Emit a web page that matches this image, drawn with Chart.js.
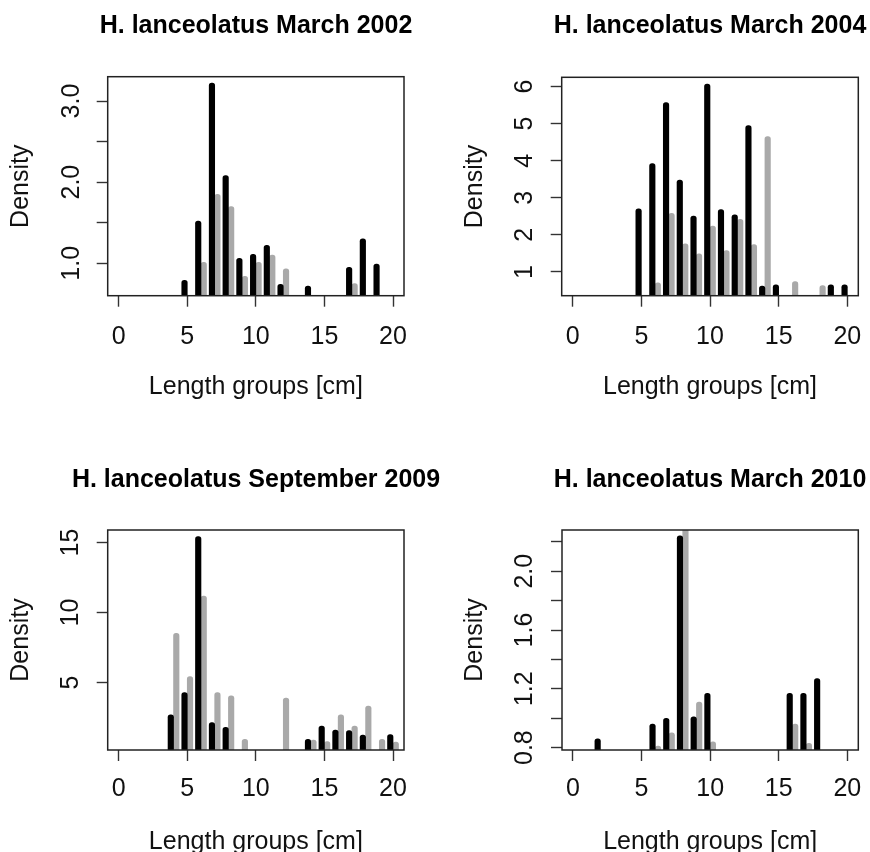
<!DOCTYPE html>
<html>
<head>
<meta charset="utf-8">
<script src="https://cdn.jsdelivr.net/npm/chart.js@4.4.1/dist/chart.umd.min.js"></script>
<style>
html,body{margin:0;padding:0;background:#fff;}
#wrap{position:relative;width:870px;height:852px;overflow:hidden;background:#fff;}
#wrap canvas{position:absolute;}
</style>
</head>
<body>
<div id="wrap"></div>
<script>
// ---------- data ----------
const lengthGroups = [1,2,3,4,5,6,7,8,9,10,11,12,13,14,15,16,17,18,19,20];
const xTicks = [0,5,10,15,20];

const titles = [
  "H. lanceolatus March 2002",
  "H. lanceolatus March 2004",
  "H. lanceolatus September 2009",
  "H. lanceolatus March 2010"
];
const xAxisTitle = "Length groups [cm]";
const yAxisTitle = "Density";

// March 2002
const p1Black = [null,null,null,null,0.79,1.52,3.22,2.08,1.06,1.11,1.22,0.74,null,0.72,null,null,0.95,1.30,0.99,null];
const p1Grey  = [null,null,null,null,null,1.01,1.85,1.70,0.84,1.01,1.10,0.93,null,null,null,null,0.75,null,null,null];
const p1YTicks  = [1.0,1.5,2.0,2.5,3.0];
const p1YLabels = ["1.0","","2.0","","3.0"];

// March 2004
const p2Black = [null,null,null,null,2.70,3.92,5.57,3.48,2.51,6.07,2.68,2.54,4.95,0.62,0.65,null,null,null,0.65,0.65];
const p2Grey  = [null,null,null,null,null,0.71,2.58,1.76,1.49,2.24,1.58,2.42,1.74,4.65,null,0.74,null,0.63,null,null];
const p2YTicks  = [1,2,3,4,5,6];
const p2YLabels = ["1","2","3","4","5","6"];

// September 2009
const p3Black = [null,null,null,2.71,4.29,15.43,2.14,1.81,null,null,null,null,null,0.95,1.90,1.62,1.57,1.26,null,1.29];
const p3Grey  = [null,null,null,8.52,5.43,11.19,4.29,4.05,0.95,null,null,3.90,null,0.90,0.79,2.71,1.90,3.33,0.95,0.76];
const p3YTicks  = [5,10,15];
const p3YLabels = ["5","10","15"];

// March 2010
const p4Black = [null,0.86,null,null,null,0.96,1.00,2.24,1.01,1.17,null,null,null,null,null,1.17,1.17,1.27,null,null];
const p4Grey  = [null,null,null,null,null,0.81,0.90,2.32,1.11,0.84,null,null,null,null,null,0.96,0.83,null,null,null];
const p4YTicks  = [0.8,1.0,1.2,1.4,1.6,1.8,2.0,2.2];
const p4YLabels = ["0.8","","1.2","","1.6","","2.0",""];

// ---------- rendering ----------
Chart.defaults.font.family = '"Liberation Sans", Arial, Helvetica, sans-serif';
Chart.defaults.color = '#111';

const framePlugin = {
  id: 'frame',
  afterDatasetsDraw(chart) {
    const {ctx, chartArea: a} = chart;
    ctx.save();
    ctx.strokeStyle = '#222';
    ctx.lineWidth = 1.5;
    ctx.strokeRect(a.left, a.top, a.right - a.left, a.bottom - a.top);
    ctx.restore();
  }
};

function toPoints(values) {
  return lengthGroups.map((x, i) => ({x: x, y: values[i]})).filter(p => p.y !== null);
}

function makePanel(p) {
  const c = document.createElement('canvas');
  c.width = p.W; c.height = p.H;
  c.style.left = p.left + 'px'; c.style.top = p.top + 'px';
  c.style.width = p.W + 'px'; c.style.height = p.H + 'px';
  document.getElementById('wrap').appendChild(c);

  const tickGrid = {display: true, drawOnChartArea: false, drawTicks: true, tickLength: 11,
                    tickWidth: 1.4, tickColor: '#333', offset: false};
  const barCommon = {barThickness: 5.5, borderRadius: 3, borderWidth: 0, clip: 0};

  new Chart(c, {
    type: 'bar',
    data: {
      datasets: [
        Object.assign({label: 'black', data: toPoints(p.black), backgroundColor: '#000000'}, barCommon),
        Object.assign({label: 'grey', data: toPoints(p.grey), backgroundColor: '#a9a9a9'}, barCommon)
      ]
    },
    options: {
      responsive: false,
      animation: false,
      devicePixelRatio: 1,
      layout: {padding: 0},
      plugins: {
        legend: {display: false},
        tooltip: {enabled: false},
        title: {
          display: true, text: p.title, color: '#000',
          font: {size: 25, weight: 'bold'},
          padding: {top: p.titleTop, bottom: p.titleBottom}
        }
      },
      scales: {
        x: {
          type: 'linear', position: 'bottom', offset: false,
          min: -0.8, max: 20.8,
          afterBuildTicks: s => { s.ticks = xTicks.map(v => ({value: v})); },
          afterFit: s => { s.height = p.xAxisH; },
          ticks: {font: {size: 25}, color: '#111', padding: p.xTickPad, autoSkip: false,
                  maxRotation: 0, minRotation: 0,
                  callback: v => String(v)},
          grid: tickGrid,
          border: {display: false},
          title: {display: true, text: xAxisTitle, font: {size: 25}, color: '#111',
                  padding: {top: 0, bottom: p.xTitleBottom}}
        },
        y: {
          type: 'linear', position: 'left',
          min: p.ymin, max: p.ymax,
          afterBuildTicks: s => { s.ticks = p.yTicks.map(v => ({value: v})); },
          afterFit: s => { s.width = p.yAxisW; },
          ticks: {font: {size: 25}, color: '#111', padding: p.yTickPad, autoSkip: false,
                  minRotation: 90, maxRotation: 90, crossAlign: 'center',
                  callback: (v, i) => p.yLabels[i]},
          grid: tickGrid,
          border: {display: false},
          title: {display: true, text: yAxisTitle, font: {size: 25}, color: '#111',
                  padding: {top: p.yTitleTop, bottom: 0}}
        },
        yR: {
          type: 'linear', position: 'right', display: true,
          afterFit: s => { s.width = p.rightW; },
          ticks: {display: false},
          grid: {display: false},
          border: {display: false}
        }
      }
    },
    plugins: [framePlugin]
  });
}

makePanel({left: 0, top: 0, W: 512, H: 426, title: titles[0],
  black: p1Black, grey: p1Grey, yTicks: p1YTicks, yLabels: p1YLabels, ymin: 0.6, ymax: 3.3,
  titleTop: 11, titleBottom: 35.7, xAxisH: 130.3, xTickPad: 15, xTitleBottom: 24.3,
  yAxisW: 107.7, rightW: 108, yTickPad: 7.3, yTitleTop: 5.7});

makePanel({left: 450, top: 0, W: 520, H: 426, title: titles[1],
  black: p2Black, grey: p2Grey, yTicks: p2YTicks, yLabels: p2YLabels, ymin: 0.36, ymax: 6.25,
  titleTop: 11, titleBottom: 36.3, xAxisH: 130.3, xTickPad: 15, xTitleBottom: 24.3,
  yAxisW: 111.7, rightW: 111.7, yTickPad: 18.25, yTitleTop: 9.7});

makePanel({left: 0, top: 426, W: 512, H: 440, title: titles[2],
  black: p3Black, grey: p3Grey, yTicks: p3YTicks, yLabels: p3YLabels, ymin: 0.19, ymax: 15.9,
  titleTop: 39, titleBottom: 35, xAxisH: 116, xTickPad: 13, xTitleBottom: 9.3,
  yAxisW: 107.7, rightW: 108, yTickPad: 12.1, yTitleTop: 5.7});

makePanel({left: 450, top: 426, W: 520, H: 440, title: titles[3],
  black: p4Black, grey: p4Grey, yTicks: p4YTicks, yLabels: p4YLabels, ymin: 0.784, ymax: 2.28,
  titleTop: 39, titleBottom: 35, xAxisH: 116, xTickPad: 13, xTitleBottom: 9.3,
  yAxisW: 112, rightW: 111.7, yTickPad: 8.6, yTitleTop: 9.7});
</script>
</body>
</html>
